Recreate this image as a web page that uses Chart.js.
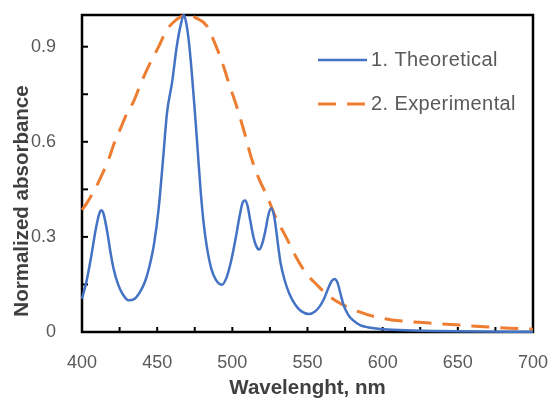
<!DOCTYPE html>
<html>
<head>
<meta charset="utf-8">
<script src="https://cdn.jsdelivr.net/npm/chart.js@4/dist/chart.umd.min.js"></script>
<style>
  html, body { margin: 0; padding: 0; background: #fff; }
  #wrap { width: 550px; height: 401px; }
</style>
</head>
<body>
<div id="wrap"><canvas id="chart" width="550" height="401"></canvas></div>
<script>
// absorption spectra, normalized to the main band
const theo_nm = [400, 403, 406, 409, 411, 412, 413, 414, 415, 417, 419, 421, 424, 427, 431, 435, 439, 442, 445, 448,
  451, 454, 456.5, 460, 463, 465.5, 467.8, 469.5, 471, 473, 475, 477, 479, 481, 483, 486, 489, 493, 496, 499,
  502, 505, 507, 508.5, 510, 512, 514, 516, 518, 520, 522, 524, 526, 528, 530, 532, 535, 538, 542, 546,
  551, 555, 558, 561, 564, 566, 568, 570, 572, 574, 577, 580, 585, 590, 600, 620, 650, 700];
const theo_abs = [0.105, 0.16, 0.235, 0.32, 0.365, 0.38, 0.384, 0.378, 0.36, 0.31, 0.25, 0.2, 0.15, 0.12, 0.1, 0.105, 0.13, 0.16, 0.21, 0.28,
  0.39, 0.55, 0.69, 0.79, 0.9, 0.965, 1.0, 0.97, 0.92, 0.82, 0.7, 0.57, 0.44, 0.34, 0.27, 0.2, 0.165, 0.149, 0.17, 0.22,
  0.29, 0.37, 0.41, 0.415, 0.4, 0.35, 0.3, 0.27, 0.26, 0.28, 0.32, 0.37, 0.39, 0.36, 0.29, 0.22, 0.16, 0.12, 0.085, 0.065,
  0.057, 0.065, 0.08, 0.105, 0.14, 0.16, 0.167, 0.155, 0.12, 0.085, 0.055, 0.038, 0.022, 0.015, 0.009, 0.005, 0.002, 0.001];

const exp_nm = [400, 403, 408, 412, 418, 421, 425, 430, 434, 438, 442, 446.5, 451, 456, 461, 466, 471, 476, 483,
  488, 494, 498, 503, 508, 513, 518, 523, 529, 536, 542, 549, 556, 562, 569, 576, 584, 595, 606, 617,
  629, 640, 651, 662, 673, 685, 700];
const exp_abs = [0.385, 0.405, 0.445, 0.483, 0.548, 0.59, 0.635, 0.69, 0.724, 0.77, 0.815, 0.86, 0.9, 0.95, 0.978, 0.995, 1.0, 0.99, 0.966,
  0.915, 0.84, 0.78, 0.71, 0.63, 0.544, 0.48, 0.43, 0.36, 0.297, 0.24, 0.186, 0.15, 0.122, 0.098, 0.08, 0.064, 0.048, 0.038, 0.033,
  0.029, 0.025, 0.022, 0.018, 0.015, 0.012, 0.009];

const series_names = ["1. Theoretical", "2. Experimental"];
const x_title = "Wavelenght, nm";
const y_title = "Normalized absorbance";

const FONT = "'Liberation Sans', Arial, sans-serif";
Chart.defaults.font.family = FONT;

const to_points = (xs, ys) => xs.map((x, i) => ({ x: x, y: ys[i] }));
const is_step = (v, step) => Math.abs(v / step - Math.round(v / step)) < 1e-6;

// black box round the plot with short inward ticks, drawn under the curves
const frame = {
  id: "frame",
  beforeDatasetsDraw(chart) {
    const { ctx, chartArea: a, scales } = chart;
    ctx.save();
    ctx.strokeStyle = "#000";
    ctx.lineWidth = 2;
    scales.x.ticks.forEach((t) => {
      const px = scales.x.getPixelForValue(t.value);
      ctx.beginPath();
      ctx.moveTo(px, a.bottom);
      ctx.lineTo(px, a.bottom - 5);
      ctx.stroke();
    });
    scales.y.ticks.forEach((t) => {
      const py = scales.y.getPixelForValue(t.value);
      ctx.beginPath();
      ctx.moveTo(a.left, py);
      ctx.lineTo(a.left + 6, py);
      ctx.stroke();
    });
    ctx.lineWidth = 2.5;
    ctx.strokeRect(a.left, a.top, a.right - a.left, a.bottom - a.top);
    ctx.restore();
  },
};

// axis titles and the legend inside the plot
const labels = {
  id: "labels",
  afterDraw(chart) {
    const { ctx, chartArea: a } = chart;
    ctx.save();
    ctx.fillStyle = "#404040";
    ctx.font = "bold 20.5px " + FONT;
    ctx.textAlign = "center";
    ctx.textBaseline = "middle";
    ctx.fillText(x_title, (a.left + a.right) / 2, 388);
    ctx.translate(22, a.bottom - 131);
    ctx.rotate(-Math.PI / 2);
    ctx.fillText(y_title, 0, 0);
    ctx.restore();

    ctx.save();
    ctx.font = "20px " + FONT;
    ctx.letterSpacing = "0.4px";
    ctx.textBaseline = "middle";
    ctx.textAlign = "left";
    chart.data.datasets.forEach((ds, i) => {
      const y = 60 + i * 44;
      ctx.strokeStyle = ds.borderColor;
      ctx.lineWidth = ds.borderWidth;
      ctx.setLineDash(ds.borderDash || []);
      ctx.beginPath();
      ctx.moveTo(318, y);
      ctx.lineTo(367, y);
      ctx.stroke();
      ctx.fillStyle = "#595959";
      ctx.fillText(ds.label, 371, y);
    });
    ctx.restore();
  },
};

new Chart(document.getElementById("chart"), {
  type: "line",
  data: {
    datasets: [
      {
        label: series_names[0],
        data: to_points(theo_nm, theo_abs),
        borderColor: "#4472C4",
        borderWidth: 2.5,
        pointRadius: 0,
        cubicInterpolationMode: "monotone",
        clip: false,
      },
      {
        label: series_names[1],
        data: to_points(exp_nm, exp_abs),
        borderColor: "#ED7D31",
        borderWidth: 3,
        borderDash: [18, 11],
        pointRadius: 0,
        cubicInterpolationMode: "monotone",
        clip: false,
      },
    ],
  },
  options: {
    responsive: false,
    animation: false,
    layout: { padding: { top: 15, right: 17, left: 0, bottom: 0 } },
    plugins: { legend: { display: false }, tooltip: { enabled: false } },
    scales: {
      x: {
        type: "linear",
        min: 400,
        max: 700,
        grid: { display: false },
        border: { display: false },
        ticks: {
          stepSize: 25,
          autoSkip: false,
          maxRotation: 0,
          padding: 12,
          color: "#595959",
          font: { size: 18 },
          callback: (v) => (is_step(v, 50) ? String(v) : ""),
        },
        afterFit: (s) => {
          s.height = 69;
          s.paddingLeft = 0;
          s.paddingRight = 0;
        },
      },
      y: {
        min: 0,
        max: 1,
        grid: { display: false },
        border: { display: false },
        ticks: {
          stepSize: 0.15,
          includeBounds: false,
          autoSkip: false,
          padding: 18,
          color: "#595959",
          font: { size: 18 },
          callback: (v) => (is_step(v, 0.3) ? String(+v.toFixed(2)) : ""),
        },
        afterFit: (s) => {
          s.width = 82;
          s.paddingTop = 0;
          s.paddingBottom = 0;
        },
      },
    },
  },
  plugins: [frame, labels],
});
</script>
</body>
</html>
